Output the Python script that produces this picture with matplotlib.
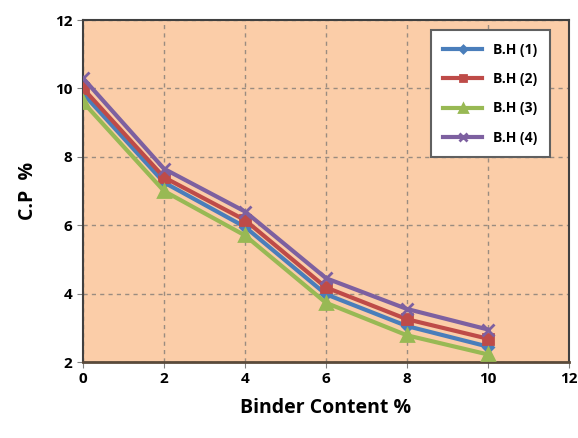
import matplotlib
matplotlib.use("Agg")
import matplotlib.pyplot as plt

plt.rcParams['font.family'] = ['Open Sans', 'DejaVu Sans']

binder = [0, 2, 4, 6, 8, 10]
bh1 = [9.85, 7.25, 5.95, 3.98, 3.05, 2.45]
bh2 = [10.0, 7.4, 6.15, 4.18, 3.25, 2.68]
bh3 = [9.6, 7.0, 5.7, 3.73, 2.78, 2.22]
bh4 = [10.3, 7.65, 6.4, 4.45, 3.55, 2.95]
labels = ['B.H (1)', 'B.H (2)', 'B.H (3)', 'B.H (4)']
xticks = [0, 2, 4, 6, 8, 10, 12]
yticks = [2, 4, 6, 8, 10, 12]

fig = plt.figure(figsize=(5.78, 4.38), dpi=100)
ax = fig.add_axes([83/578, 1 - 362/438, (569-83)/578, (362-20)/438])
ax.set_facecolor('#FBCDA8')

series = [
    (bh1, '#4A7EBB', 'D', 5),
    (bh2, '#BE4B48', 's', 7),
    (bh3, '#98B954', '^', 8),
    (bh4, '#7D60A0', 'x', 9),
]
for (vals, col, mk, ms), lab in zip(series, labels):
    ax.plot(binder, vals, color=col, lw=3, marker=mk, ms=ms, mew=2,
            mfc=col, mec=col, label=lab, zorder=3)

ax.set_xlim(0, 12)
ax.set_ylim(2, 12)
ax.set_xticks(xticks)
ax.set_yticks(yticks)
ax.grid(True, color='#9A8C80', ls=(0, (3, 3)), lw=1)
for lbl in ax.get_xticklabels() + ax.get_yticklabels():
    lbl.set_fontweight('bold')
ax.tick_params(labelsize=11, length=4, color='#808080')
for s in ax.spines.values():
    s.set_color('#404040')
    s.set_linewidth(1.5)
ax.spines['bottom'].set_color('#5A4A3A')
ax.spines['bottom'].set_linewidth(2)

ax.set_xlabel('Binder Content %', fontsize=14, fontweight='bold', labelpad=8)
ax.set_ylabel('C.P  %', fontsize=14, fontweight='bold', labelpad=12)

leg = ax.legend(loc='upper right', bbox_to_anchor=(0.975, 0.99),
                prop={'weight': 'bold', 'size': 10}, frameon=True, fancybox=False,
                edgecolor='#606060', handlelength=2.8, labelspacing=1.1,
                borderpad=0.9, markerscale=0.7)
leg.get_frame().set_linewidth(1.5)
leg.get_frame().set_facecolor('white')
leg.get_frame().set_alpha(1)

fig.savefig('out.png', dpi=100, facecolor='white')
